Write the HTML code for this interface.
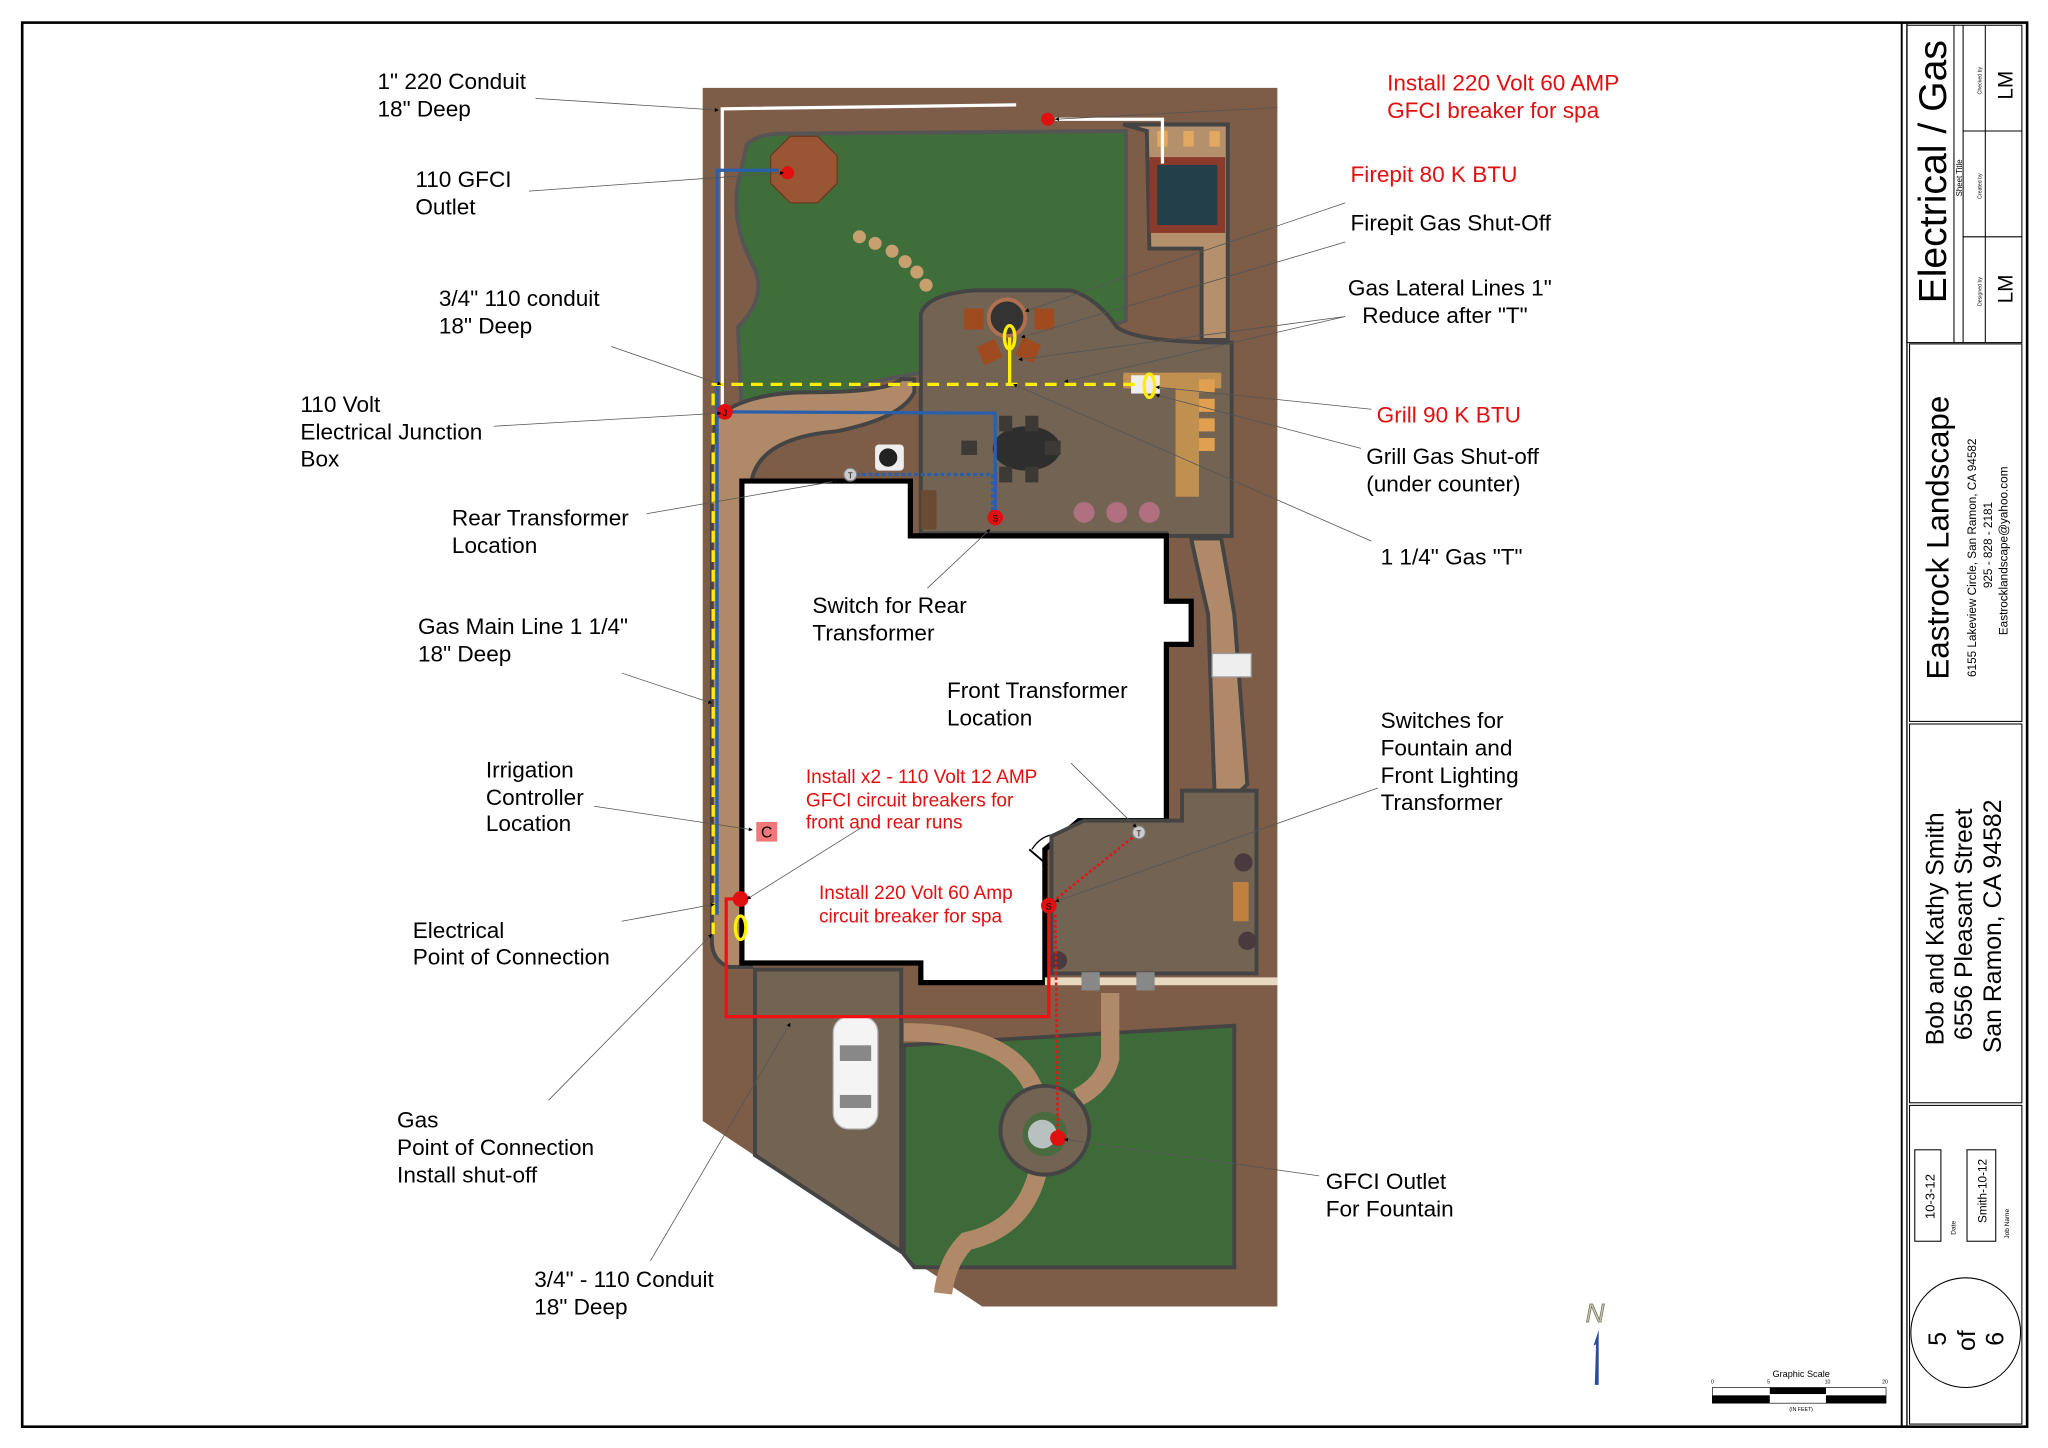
<!DOCTYPE html>
<html><head><meta charset="utf-8"><style>
html,body{margin:0;padding:0;background:#fff}
svg{display:block}
text{font-family:"Liberation Sans",sans-serif}
</style></head><body>
<svg width="2048" height="1448" viewBox="0 0 1568 1108" xmlns="http://www.w3.org/2000/svg">
<defs><marker id="ah" viewBox="0 0 10 10" refX="9" refY="5" markerWidth="7" markerHeight="5" orient="auto"><path d="M0,0 L10,5 L0,10 Z" fill="#000"/></marker></defs>
<rect x="0" y="0" width="1568" height="1108" fill="#fff"/>
<rect x="17" y="17" width="1535" height="1075" fill="none" stroke="#000" stroke-width="2"/>
<line x1="1456" y1="17" x2="1456" y2="1092" stroke="#000" stroke-width="1.5"/>
<line x1="1460" y1="17" x2="1460" y2="1092" stroke="#000" stroke-width="1"/>
<g stroke="#000" fill="none" stroke-width="0.8">
<rect x="1460" y="19" width="88" height="243"/>
<rect x="1462" y="263" width="86" height="289"/>
<rect x="1462" y="554" width="86" height="290"/>
<rect x="1462" y="846" width="86" height="244"/>
<line x1="1503" y1="19" x2="1503" y2="262"/>
<line x1="1496" y1="19" x2="1496" y2="262"/>
<line x1="1503" y1="100" x2="1548" y2="100"/>
<line x1="1503" y1="181" x2="1548" y2="181"/>
<line x1="1520" y1="19" x2="1520" y2="262"/>
<rect x="1466" y="880" width="20" height="70"/>
<rect x="1506" y="880" width="22" height="70"/>
<ellipse cx="1505" cy="1020" rx="42" ry="42"/>
</g>
<g fill="#000">
<text transform="translate(1490,232) rotate(-90)" font-size="30">Electrical / Gas</text>
<text transform="translate(1502,150) rotate(-90)" font-size="6">Sheet Title</text>
<text transform="translate(1517,72) rotate(-90)" font-size="4">Checked by</text>
<text transform="translate(1517,152) rotate(-90)" font-size="4">Created by</text>
<text transform="translate(1517,234) rotate(-90)" font-size="4">Designed by</text>
<text transform="translate(1541,76) rotate(-90)" font-size="16">LM</text>
<text transform="translate(1541,232) rotate(-90)" font-size="16">LM</text>
<text transform="translate(1492,520) rotate(-90)" font-size="24">Eastrock Landscape</text>
<text transform="translate(1513,518) rotate(-90)" font-size="9">6155 Lakeview Circle, San Ramon, CA  94582</text>
<text transform="translate(1525,450) rotate(-90)" font-size="9">925 - 828 - 2181</text>
<text transform="translate(1537,486) rotate(-90)" font-size="9">Eastrocklandscape@yahoo.com</text>
<text transform="translate(1488,800) rotate(-90)" font-size="19">Bob and Kathy Smith</text>
<text transform="translate(1510,796) rotate(-90)" font-size="19">6556 Pleasant Street</text>
<text transform="translate(1532,806) rotate(-90)" font-size="19">San Ramon, CA  94582</text>
<text transform="translate(1481,933) rotate(-90)" font-size="10">10-3-12</text>
<text transform="translate(1497,945) rotate(-90)" font-size="5">Date</text>
<text transform="translate(1521,936) rotate(-90)" font-size="9">Smith-10-12</text>
<text transform="translate(1538,948) rotate(-90)" font-size="5">Job Name</text>
<text transform="translate(1490,1030) rotate(-90)" font-size="19">5</text>
<text transform="translate(1512,1034) rotate(-90)" font-size="19">of</text>
<text transform="translate(1534,1030) rotate(-90)" font-size="19">6</text>
</g>

<polygon points="538,67 978,67 978,1000 752,1000 538,858" fill="#7d5c48"/>
<path d="M572,110 Q580,102 600,102 L862,100 L862,245 Q840,255 820,240 Q800,225 770,225 Q720,222 708,240 L705,285 L690,288 Q660,292 640,305 Q600,320 568,318 L565,250 Q590,225 575,200 Q560,170 565,140 Z" fill="#3f6e3b" stroke="#555" stroke-width="3"/>
<path d="M860,95 L940,95 L940,260 L920,260 L920,190 L880,190 L878,100 Z" fill="#b5906c" stroke="#444" stroke-width="3"/>
<rect x="880" y="120" width="58" height="58" fill="#8a3a2a"/>
<rect x="886" y="126" width="46" height="46" fill="#23404a"/>
<rect x="886" y="100" width="8" height="12" fill="#e0a860"/><rect x="906" y="100" width="8" height="12" fill="#e0a860"/><rect x="926" y="100" width="8" height="12" fill="#e0a860"/>
<polygon points="605,104 626,104 641,119 641,140 626,155 605,155 590,140 590,119" fill="#9a5535" stroke="#6a3a20"/>
<circle cx="658" cy="181" r="5" fill="#c8a070"/><circle cx="670" cy="186" r="5" fill="#c8a070"/><circle cx="683" cy="192" r="5" fill="#c8a070"/><circle cx="693" cy="200" r="5" fill="#c8a070"/><circle cx="702" cy="208" r="5" fill="#c8a070"/><circle cx="709" cy="218" r="5" fill="#c8a070"/>
<path d="M705,240 Q710,225 745,222 L820,222 Q840,228 855,250 Q870,262 943,262 L943,410 L893,410 L893,408 L705,408 Z" fill="#736352" stroke="#444" stroke-width="3"/>
<path d="M548,320 Q570,300 620,300 Q680,300 690,290 L700,290 L700,300 Q690,320 640,330 Q580,335 575,370 L575,740 L558,740 Q545,735 545,720 L545,350 Z" fill="#b08a68" stroke="#444" stroke-width="3"/>
<path d="M912,412 L935,412 Q940,440 945,470 L955,600 L945,610 L930,610 L925,470 Q918,440 912,412Z" fill="#b08a68" stroke="#444" stroke-width="3"/>
<rect x="928" y="500" width="30" height="18" fill="#eee" stroke="#999"/>
<circle cx="771" cy="243" r="14" fill="#333" stroke="#b07050" stroke-width="3"/>
<rect x="738" y="236" width="15" height="16" fill="#a04a20"/><rect x="792" y="236" width="15" height="16" fill="#a04a20"/>
<rect x="750" y="262" width="15" height="15" fill="#a04a20" transform="rotate(-25 757 269)"/><rect x="780" y="260" width="15" height="15" fill="#a04a20" transform="rotate(25 787 267)"/>
<ellipse cx="786" cy="343" rx="26" ry="17" fill="#2e2e2e"/>
<rect x="765" y="318" width="10" height="12" fill="#3d3a36"/><rect x="785" y="318" width="10" height="12" fill="#3d3a36"/>
<rect x="765" y="357" width="10" height="12" fill="#3d3a36"/><rect x="785" y="357" width="10" height="12" fill="#3d3a36"/>
<rect x="736" y="337" width="12" height="11" fill="#3d3a36"/><rect x="800" y="337" width="12" height="11" fill="#3d3a36"/>
<rect x="860" y="285" width="75" height="12" fill="#c09050"/><rect x="900" y="285" width="18" height="95" fill="#c09050"/>
<rect x="918" y="290" width="12" height="10" fill="#e0a050"/><rect x="918" y="305" width="12" height="10" fill="#e0a050"/><rect x="918" y="320" width="12" height="10" fill="#e0a050"/><rect x="918" y="335" width="12" height="10" fill="#e0a050"/>
<rect x="866" y="287" width="22" height="14" fill="#eee"/>
<rect x="670" y="340" width="22" height="20" fill="#eee" rx="3"/><circle cx="680" cy="350" r="7" fill="#222"/>
<rect x="705" y="375" width="12" height="30" fill="#6a4a30"/>
<circle cx="830" cy="392" r="8" fill="#b07080"/><circle cx="855" cy="392" r="8" fill="#b07080"/><circle cx="880" cy="392" r="8" fill="#b07080"/>
<polygon points="568,368 697,368 697,410 893,410 893,460 912,460 912,493 893,493 893,628 826,628 800,650 800,752 705,752 705,737 572,737 568,737" fill="#fff" stroke="#000" stroke-width="4"/>
<path d="M790,650 Q800,635 815,640" fill="none" stroke="#000" stroke-width="1"/>
<line x1="788" y1="650" x2="802" y2="662" stroke="#000" stroke-width="1.5"/>
<polygon points="805,640 830,628 905,628 905,605 962,605 962,745 805,745" fill="#736352" stroke="#444" stroke-width="3"/>
<rect x="944" y="675" width="12" height="30" fill="#c08040"/>
<circle cx="952" cy="660" r="7" fill="#4a3a40"/><circle cx="955" cy="720" r="7" fill="#4a3a40"/><circle cx="810" cy="735" r="7" fill="#4a3a40"/>
<rect x="800" y="748" width="178" height="6" fill="#e8d8c0"/>
<rect x="828" y="744" width="14" height="14" fill="#888"/><rect x="870" y="744" width="14" height="14" fill="#888"/>
<polygon points="578,742 690,742 690,958 578,884" fill="#736352" stroke="#444" stroke-width="3"/>
<rect x="638" y="778" width="34" height="86" rx="12" fill="#f4f4f4" stroke="#bbb"/>
<rect x="643" y="800" width="24" height="12" fill="#888"/><rect x="643" y="838" width="24" height="10" fill="#888"/>
<polygon points="692,800 945,785 945,970 700,970 692,960" fill="#3e6a3a" stroke="#444" stroke-width="3"/>
<path d="M692,790 Q770,790 790,830 L800,850" fill="none" stroke="#b08a68" stroke-width="14"/>
<path d="M850,760 L850,810 Q845,830 825,840" fill="none" stroke="#b08a68" stroke-width="14"/>
<path d="M795,895 Q785,940 740,950 Q725,965 722,990" fill="none" stroke="#b08a68" stroke-width="14"/>
<circle cx="800" cy="865" r="34" fill="#736352" stroke="#444" stroke-width="3"/>
<circle cx="800" cy="868" r="17" fill="#4a6a40"/><circle cx="798" cy="868" r="11" fill="#b8c0c0"/>

<polyline points="553,315 553,83 778,80" fill="none" stroke="#fff" stroke-width="2.5"/>
<polyline points="808,91 890,91 890,125" fill="none" stroke="#fff" stroke-width="2.5"/>
<polyline points="549,700 549,130 575,130 596,130" fill="none" stroke="#2a5faa" stroke-width="2.5"/>
<polyline points="555,315 762,316 762,395" fill="none" stroke="#2a5faa" stroke-width="2.5"/>
<polyline points="655,363 760,363 760,395" fill="none" stroke="#2a5faa" stroke-width="2.5" stroke-dasharray="3,2"/>
<polyline points="546,715 546,294 870,294" fill="none" stroke="#ffee00" stroke-width="2.5" stroke-dasharray="9,6"/>
<line x1="773" y1="258" x2="773" y2="294" stroke="#ffee00" stroke-width="2.5"/>
<polyline points="567,688 556,688 556,778 803,778 803,693" fill="none" stroke="#ee1111" stroke-width="2.5"/>
<line x1="806" y1="690" x2="872" y2="637" stroke="#ee1111" stroke-width="2" stroke-dasharray="2,2"/>
<line x1="808" y1="700" x2="810" y2="870" stroke="#ee1111" stroke-width="2" stroke-dasharray="2,2"/>
<g font-size="9" text-anchor="middle" fill="#000">
<circle cx="802" cy="91" r="5" fill="#e01010"/>
<circle cx="603" cy="132" r="5" fill="#e01010"/>
<circle cx="555" cy="315" r="6" fill="#e01010"/><text x="555" y="318" font-size="7">J</text>
<circle cx="762" cy="396" r="6" fill="#e01010"/><text x="762" y="399" font-size="7">S</text>
<circle cx="651" cy="363" r="5" fill="#ccc" stroke="#777"/><text x="651" y="366" font-size="6">T</text>
<circle cx="872" cy="637" r="5" fill="#ccc" stroke="#777"/><text x="872" y="640" font-size="6">T</text>
<circle cx="803" cy="693" r="6" fill="#e01010"/><text x="803" y="696" font-size="7">S</text>
<circle cx="567" cy="688" r="6" fill="#e01010"/>
<circle cx="810" cy="871" r="6" fill="#e01010"/>
<ellipse cx="773" cy="258" rx="4" ry="9" fill="none" stroke="#ffee00" stroke-width="2.5"/>
<ellipse cx="880" cy="295" rx="4" ry="9" fill="none" stroke="#ffee00" stroke-width="2.5"/>
<ellipse cx="567" cy="710" rx="4" ry="9" fill="none" stroke="#ffee00" stroke-width="2.5"/>
<rect x="579" y="629" width="16" height="15" fill="#f07878"/><text x="587" y="641" font-size="12">C</text>
</g>

<g stroke="#555" stroke-width="0.6" fill="none" marker-end="url(#ah)">
<line x1="410" y1="75" x2="550" y2="84"/>
<line x1="405" y1="146" x2="600" y2="132"/>
<line x1="468" y1="265" x2="552" y2="294"/>
<line x1="378" y1="326" x2="552" y2="316"/>
<line x1="495" y1="393" x2="640" y2="368"/>
<line x1="476" y1="515" x2="545" y2="538"/>
<line x1="455" y1="617" x2="576" y2="635"/>
<line x1="476" y1="705" x2="547" y2="692"/>
<line x1="420" y1="842" x2="545" y2="715"/>
<line x1="498" y1="965" x2="605" y2="783"/>
<line x1="978" y1="82" x2="808" y2="91"/>
<line x1="1030" y1="155" x2="785" y2="238"/>
<line x1="1030" y1="185" x2="782" y2="258"/>
<line x1="1030" y1="242" x2="780" y2="275"/>
<line x1="1030" y1="242" x2="815" y2="292"/>
<line x1="1050" y1="313" x2="885" y2="296"/>
<line x1="1042" y1="343" x2="885" y2="302"/>
<line x1="1050" y1="414" x2="776" y2="294"/>
<line x1="710" y1="450" x2="758" y2="405"/>
<line x1="820" y1="584" x2="870" y2="633"/>
<line x1="1055" y1="603" x2="808" y2="690"/>
<line x1="660" y1="633" x2="572" y2="688"/>
<line x1="1010" y1="900" x2="815" y2="872"/>
</g>

<g font-size="17.3" fill="#000">
<text x="289" y="68">1" 220 Conduit</text><text x="289" y="89">18" Deep</text>
<text x="318" y="143">110 GFCI</text><text x="318" y="164">Outlet</text>
<text x="336" y="234">3/4" 110 conduit</text><text x="336" y="255">18" Deep</text>
<text x="230" y="315">110 Volt</text><text x="230" y="336">Electrical Junction</text><text x="230" y="357">Box</text>
<text x="346" y="402">Rear Transformer</text><text x="346" y="423">Location</text>
<text x="320" y="485">Gas Main Line 1 1/4"</text><text x="320" y="506">18" Deep</text>
<text x="372" y="595">Irrigation</text><text x="372" y="616">Controller</text><text x="372" y="636">Location</text>
<text x="316" y="718">Electrical</text><text x="316" y="738">Point of Connection</text>
<text x="304" y="863">Gas</text><text x="304" y="884">Point of Connection</text><text x="304" y="905">Install shut-off</text>
<text x="409" y="985">3/4" - 110 Conduit</text><text x="409" y="1006">18" Deep</text>
<text x="1034" y="176">Firepit Gas Shut-Off</text>
<text x="1032" y="226">Gas Lateral Lines 1"</text><text x="1043" y="247">Reduce after "T"</text>
<text x="1046" y="355">Grill Gas Shut-off</text><text x="1046" y="376">(under counter)</text>
<text x="1057" y="432">1 1/4" Gas "T"</text>
<text x="622" y="469">Switch for Rear</text><text x="622" y="490">Transformer</text>
<text x="725" y="534">Front Transformer</text><text x="725" y="555">Location</text>
<text x="1057" y="557">Switches for</text><text x="1057" y="578">Fountain and</text><text x="1057" y="599">Front Lighting</text><text x="1057" y="620">Transformer</text>
<text x="1015" y="910">GFCI Outlet</text><text x="1015" y="931">For Fountain</text>
</g>
<g font-size="17.3" fill="#e01010">
<text x="1062" y="69">Install 220 Volt 60 AMP</text><text x="1062" y="90">GFCI breaker for spa</text>
<text x="1034" y="139">Firepit 80 K BTU</text>
<text x="1054" y="323">Grill 90 K  BTU</text>
</g>
<g font-size="14.6" fill="#e01010">
<text x="617" y="599">Install x2 - 110 Volt 12 AMP</text><text x="617" y="617">GFCI circuit breakers for</text><text x="617" y="634">front and rear runs</text>
<text x="627" y="688">Install 220 Volt 60 Amp</text><text x="627" y="706">circuit breaker for spa</text>
</g>

<text x="1214" y="1012" font-size="20" font-family="Liberation Serif" font-style="italic" fill="#c8c8a0" stroke="#666" stroke-width="0.5">N</text>
<path d="M1224,1018 L1220,1030 L1222,1029 L1221,1060 L1224,1060 Z" fill="#2a4f9a"/>
<text x="1379" y="1054" font-size="7" text-anchor="middle">Graphic Scale</text>
<g font-size="4"><text x="1310" y="1059">0</text><text x="1353" y="1059">5</text><text x="1397" y="1059">10</text><text x="1441" y="1059">20</text></g>
<rect x="1311" y="1062" width="133" height="12" fill="#fff" stroke="#000" stroke-width="0.5"/>
<rect x="1355" y="1062" width="43" height="5" fill="#000"/>
<rect x="1311" y="1068" width="44" height="6" fill="#000"/>
<rect x="1398" y="1068" width="46" height="6" fill="#000"/>
<text x="1379" y="1080" font-size="4" text-anchor="middle">(IN FEET)</text>
</svg>
</body></html>
